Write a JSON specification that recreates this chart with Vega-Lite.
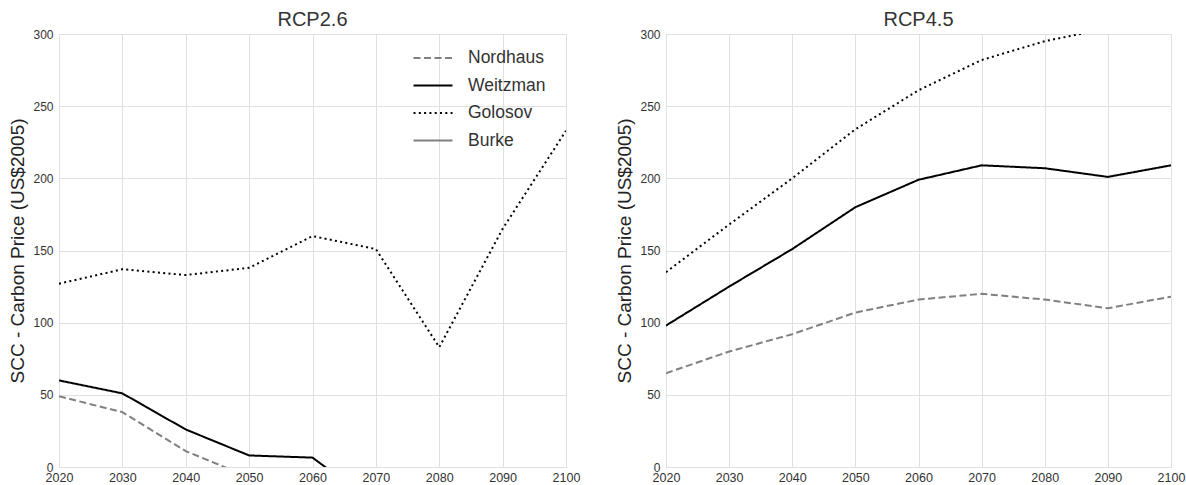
{
  "$schema": "https://vega.github.io/schema/vega-lite/v6.json",
  "padding": {"left": 8, "top": 9, "right": 0, "bottom": 0},
  "spacing": 34,
  "config": {
    "font": "Liberation Sans",
    "view": {"stroke": "#cccccc", "strokeWidth": 1},
    "axis": {
      "gridColor": "#e0e0e0", "domain": false, "ticks": false, "labelFlush": false,
      "labelColor": "#333333", "labelFontSize": 12,
      "titleFontSize": 19, "titleFontWeight": "normal", "titleColor": "#222222"
    },
    "axisX": {"labelPadding": 4, "labelFontSize": 12.5},
    "axisY": {"labelPadding": 6},
    "title": {"fontSize": 20, "fontWeight": "normal", "color": "#333333", "offset": -2}
  },
  "data": {"values": [
    {"panel": "RCP2.6", "model": "Nordhaus", "year": 2020, "scc": 49},
    {"panel": "RCP2.6", "model": "Nordhaus", "year": 2030, "scc": 38},
    {"panel": "RCP2.6", "model": "Nordhaus", "year": 2040, "scc": 11},
    {"panel": "RCP2.6", "model": "Nordhaus", "year": 2050, "scc": -7},
    {"panel": "RCP2.6", "model": "Weitzman", "year": 2020, "scc": 60},
    {"panel": "RCP2.6", "model": "Weitzman", "year": 2030, "scc": 51},
    {"panel": "RCP2.6", "model": "Weitzman", "year": 2040, "scc": 26},
    {"panel": "RCP2.6", "model": "Weitzman", "year": 2050, "scc": 8},
    {"panel": "RCP2.6", "model": "Weitzman", "year": 2060, "scc": 6.5},
    {"panel": "RCP2.6", "model": "Weitzman", "year": 2070, "scc": -26},
    {"panel": "RCP2.6", "model": "Golosov", "year": 2020, "scc": 127},
    {"panel": "RCP2.6", "model": "Golosov", "year": 2030, "scc": 137},
    {"panel": "RCP2.6", "model": "Golosov", "year": 2040, "scc": 133},
    {"panel": "RCP2.6", "model": "Golosov", "year": 2050, "scc": 138},
    {"panel": "RCP2.6", "model": "Golosov", "year": 2060, "scc": 160},
    {"panel": "RCP2.6", "model": "Golosov", "year": 2070, "scc": 151},
    {"panel": "RCP2.6", "model": "Golosov", "year": 2080, "scc": 83},
    {"panel": "RCP2.6", "model": "Golosov", "year": 2090, "scc": 165},
    {"panel": "RCP2.6", "model": "Golosov", "year": 2100, "scc": 233},
    {"panel": "RCP2.6", "model": "Burke", "year": 2020, "scc": -40},
    {"panel": "RCP2.6", "model": "Burke", "year": 2100, "scc": -60},
    {"panel": "RCP4.5", "model": "Nordhaus", "year": 2020, "scc": 65},
    {"panel": "RCP4.5", "model": "Nordhaus", "year": 2030, "scc": 80},
    {"panel": "RCP4.5", "model": "Nordhaus", "year": 2040, "scc": 92},
    {"panel": "RCP4.5", "model": "Nordhaus", "year": 2050, "scc": 107},
    {"panel": "RCP4.5", "model": "Nordhaus", "year": 2060, "scc": 116},
    {"panel": "RCP4.5", "model": "Nordhaus", "year": 2070, "scc": 120},
    {"panel": "RCP4.5", "model": "Nordhaus", "year": 2080, "scc": 116},
    {"panel": "RCP4.5", "model": "Nordhaus", "year": 2090, "scc": 110},
    {"panel": "RCP4.5", "model": "Nordhaus", "year": 2100, "scc": 118},
    {"panel": "RCP4.5", "model": "Weitzman", "year": 2020, "scc": 98},
    {"panel": "RCP4.5", "model": "Weitzman", "year": 2030, "scc": 125},
    {"panel": "RCP4.5", "model": "Weitzman", "year": 2040, "scc": 151},
    {"panel": "RCP4.5", "model": "Weitzman", "year": 2050, "scc": 180},
    {"panel": "RCP4.5", "model": "Weitzman", "year": 2060, "scc": 199},
    {"panel": "RCP4.5", "model": "Weitzman", "year": 2070, "scc": 209},
    {"panel": "RCP4.5", "model": "Weitzman", "year": 2080, "scc": 207},
    {"panel": "RCP4.5", "model": "Weitzman", "year": 2090, "scc": 201},
    {"panel": "RCP4.5", "model": "Weitzman", "year": 2100, "scc": 209},
    {"panel": "RCP4.5", "model": "Golosov", "year": 2020, "scc": 135},
    {"panel": "RCP4.5", "model": "Golosov", "year": 2030, "scc": 168},
    {"panel": "RCP4.5", "model": "Golosov", "year": 2040, "scc": 200},
    {"panel": "RCP4.5", "model": "Golosov", "year": 2050, "scc": 234},
    {"panel": "RCP4.5", "model": "Golosov", "year": 2060, "scc": 261},
    {"panel": "RCP4.5", "model": "Golosov", "year": 2070, "scc": 282},
    {"panel": "RCP4.5", "model": "Golosov", "year": 2080, "scc": 295},
    {"panel": "RCP4.5", "model": "Golosov", "year": 2090, "scc": 304},
    {"panel": "RCP4.5", "model": "Golosov", "year": 2100, "scc": 312},
    {"panel": "RCP4.5", "model": "Burke", "year": 2020, "scc": -40},
    {"panel": "RCP4.5", "model": "Burke", "year": 2100, "scc": -60}
  ]},
  "resolve": {"legend": {"color": "independent", "strokeDash": "independent"}},
  "hconcat": [
    {
      "title": "RCP2.6",
      "width": 507, "height": 433,
      "transform": [{"filter": "datum.panel === 'RCP2.6'"}],
      "mark": {"type": "line", "clip": true, "strokeWidth": 2},
      "encoding": {
        "x": {"field": "year", "type": "quantitative", "scale": {"domain": [2020, 2100], "nice": false}, "axis": {"values": [2020,2030,2040,2050,2060,2070,2080,2090,2100], "format": "d", "title": null}},
        "y": {"field": "scc", "type": "quantitative", "scale": {"domain": [0, 300], "nice": false}, "axis": {"values": [0,50,100,150,200,250,300], "title": "SCC - Carbon Price (US$2005)", "titlePadding": 5}},
        "color": {"field": "model", "type": "nominal", "sort": ["Nordhaus", "Weitzman", "Golosov", "Burke"],
          "scale": {"domain": ["Nordhaus", "Weitzman", "Golosov", "Burke"], "range": ["#808080", "#000000", "#000000", "#808080"]},
          "legend": {"title": null, "orient": "none", "legendX": 363, "legendY": 13, "symbolType": "M-2,0H2", "symbolSize": 380, "symbolStrokeWidth": 2, "labelFontSize": 17.5, "labelColor": "#333333", "rowPadding": 7.5, "labelOffset": 24}},
        "strokeDash": {"field": "model", "type": "nominal", "sort": ["Nordhaus", "Weitzman", "Golosov", "Burke"],
          "scale": {"domain": ["Nordhaus", "Weitzman", "Golosov", "Burke"], "range": [[7, 3.5], [1, 0], [2, 3.3], [1, 0]]},
          "legend": {"title": null, "orient": "none", "legendX": 363, "legendY": 13, "symbolType": "M-2,0H2", "symbolSize": 380, "symbolStrokeWidth": 2, "labelFontSize": 17.5, "labelColor": "#333333", "rowPadding": 7.5, "labelOffset": 24}}
      }
    },
    {
      "title": "RCP4.5",
      "width": 505, "height": 433,
      "transform": [{"filter": "datum.panel === 'RCP4.5'"}],
      "mark": {"type": "line", "clip": true, "strokeWidth": 2},
      "encoding": {
        "x": {"field": "year", "type": "quantitative", "scale": {"domain": [2020, 2100], "nice": false}, "axis": {"values": [2020,2030,2040,2050,2060,2070,2080,2090,2100], "format": "d", "title": null}},
        "y": {"field": "scc", "type": "quantitative", "scale": {"domain": [0, 300], "nice": false}, "axis": {"values": [0,50,100,150,200,250,300], "title": "SCC - Carbon Price (US$2005)", "titlePadding": 5}},
        "color": {"field": "model", "type": "nominal",
          "scale": {"domain": ["Nordhaus", "Weitzman", "Golosov", "Burke"], "range": ["#808080", "#000000", "#000000", "#808080"]},
          "legend": null},
        "strokeDash": {"field": "model", "type": "nominal",
          "scale": {"domain": ["Nordhaus", "Weitzman", "Golosov", "Burke"], "range": [[7, 3.5], [1, 0], [2, 3.3], [1, 0]]},
          "legend": null}
      }
    }
  ]
}
